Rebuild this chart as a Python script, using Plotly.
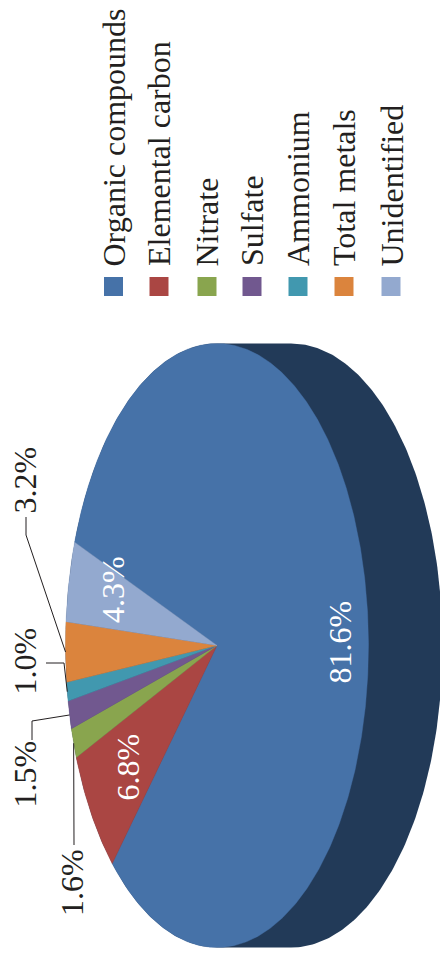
import numpy as np
import plotly.graph_objects as go

# Particulate composition shown as a tilted pie, turned on its side
categories = ["Organic compounds", "Elemental carbon", "Nitrate", "Sulfate",
              "Ammonium", "Total metals", "Unidentified"]
shares = [81.6, 6.8, 1.6, 1.5, 1.0, 3.2, 4.3]
colors = ["#4672A8", "#AA4643", "#89A54E", "#71588F", "#4198AF", "#DB843D", "#93A9CF"]

# Pie geometry in page pixels
CX, CY, RX, RY = 217.0, 645.5, 151.5, 302.0
DEPTH = 74.0
START_DEG = 200.0  # organic compounds begins here, slices run clockwise on the page
SIDE_COLOR = "#223A58"
FONT = "Liberation Serif"
INK = "#231F20"


def rim(deg):
    t = np.radians(deg)
    return CX + RX * np.cos(t), CY + RY * np.sin(t)


fig = go.Figure()

# Extruded side of the disc
right_x, right_y = rim(np.linspace(-90, 90, 200))
left_x, left_y = rim(np.linspace(90, 270, 200))
fig.add_trace(go.Scatter(
    x=np.r_[right_x + DEPTH, left_x], y=np.r_[right_y, left_y],
    mode="lines", fill="toself", fillcolor=SIDE_COLOR,
    line=dict(color=SIDE_COLOR, width=0), hoverinfo="skip", showlegend=False))

# Top face slices
angle = START_DEG
mid_angle = {}
for name, share, color in zip(categories, shares, colors):
    sweep = share / sum(shares) * 360.0
    xs, ys = rim(np.linspace(angle, angle + sweep, max(int(sweep * 2), 6)))
    fig.add_trace(go.Scatter(
        x=np.r_[CX, xs, CX], y=np.r_[CY, ys, CY],
        mode="lines", fill="toself", fillcolor=color,
        line=dict(color=color, width=0.4), name=name, hoverinfo="skip", showlegend=False))
    mid_angle[name] = angle + sweep / 2
    angle += sweep

# Leader lines: elbow points lead out to each small slice's rim midpoint
leader_paths = {
    "Total metals": [(26, 517), (26, 535)],
    "Ammonium": [(46, 663), (64, 663)],
    "Sulfate": [(32, 740), (32, 721)],
    "Nitrate": [(74, 845)],
}
for name, pts in leader_paths.items():
    ex, ey = rim(mid_angle[name])
    fig.add_trace(go.Scatter(
        x=[p[0] for p in pts] + [ex], y=[p[1] for p in pts] + [ey],
        mode="lines", line=dict(color=INK, width=1), hoverinfo="skip", showlegend=False))

# Legend swatches
swatch_x = [113.5, 159, 207, 252, 298, 344, 391]
swatch_y = 286.5
fig.add_trace(go.Scatter(
    x=swatch_x, y=[swatch_y] * len(swatch_x), mode="markers",
    marker=dict(symbol="square", size=19, color=colors, line=dict(width=0)),
    hoverinfo="skip", showlegend=False))

annotations = []


def vertical_text(text, x, y, color, yanchor="middle"):
    annotations.append(dict(
        text=text, x=x, y=y, xref="x", yref="y", showarrow=False, textangle=-90,
        xanchor="center", yanchor=yanchor, borderpad=0,
        font=dict(family=FONT, size=32, color=color)))


# Legend labels share a common end just above the swatches
legend_text_x = [113, 159, 206.5, 252, 298, 344, 391]
for name, x in zip(categories, legend_text_x):
    vertical_text(name, x, 267.5, INK, yanchor="bottom")

# Value labels
label_pos = {
    "Organic compounds": (339.5, 642, "white"),
    "Elemental carbon": (127.5, 767, "white"),
    "Nitrate": (71.5, 882.5, INK),
    "Sulfate": (24.5, 774, INK),
    "Ammonium": (24.5, 661, INK),
    "Total metals": (24.5, 480, INK),
    "Unidentified": (113, 590, "white"),
}
for name, share in zip(categories, shares):
    x, y, color = label_pos[name]
    vertical_text(f"{share:.1f}%", x, y, color)

fig.update_layout(
    width=440, height=958, margin=dict(l=0, r=0, t=0, b=0),
    paper_bgcolor="white", plot_bgcolor="white", showlegend=False,
    xaxis=dict(range=[0, 440], visible=False, fixedrange=True),
    yaxis=dict(range=[958, 0], visible=False, fixedrange=True),
    annotations=annotations)

fig.write_html("out.html", config={"displayModeBar": False})
